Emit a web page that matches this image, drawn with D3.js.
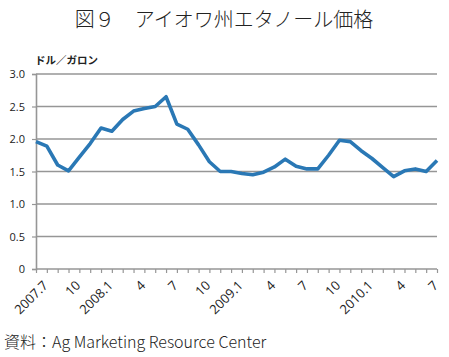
<!DOCTYPE html>
<html><head><meta charset="utf-8">
<script src="https://cdn.jsdelivr.net/npm/d3@7"></script>
<style>body{margin:0;background:#fff}svg{display:block}</style>
</head><body><svg id="c" width="449" height="357"></svg>
<script>
const months = ["2007.7","2007.8","2007.9","2007.10","2007.11","2007.12",
"2008.1","2008.2","2008.3","2008.4","2008.5","2008.6","2008.7","2008.8","2008.9","2008.10","2008.11","2008.12",
"2009.1","2009.2","2009.3","2009.4","2009.5","2009.6","2009.7","2009.8","2009.9","2009.10","2009.11","2009.12",
"2010.1","2010.2","2010.3","2010.4","2010.5","2010.6","2010.7","2010.8"];
const prices = [1.96,1.89,1.60,1.51,1.72,1.93,2.17,2.12,2.30,2.43,2.47,2.50,2.65,2.23,2.15,1.91,1.65,1.50,
1.50,1.47,1.45,1.49,1.57,1.69,1.58,1.54,1.54,1.75,1.98,1.96,1.82,1.70,1.56,1.42,1.51,1.54,1.50,1.67];
const tickLabels = {"2007.7":"2007.7","2007.10":"10","2008.1":"2008.1","2008.4":"4","2008.7":"7","2008.10":"10",
"2009.1":"2009.1","2009.4":"4","2009.7":"7","2009.10":"10","2010.1":"2010.1","2010.4":"4","2010.7":"7"};
const yTicks = [0,0.5,1.0,1.5,2.0,2.5,3.0];

const svg = d3.select("#c");
const L=36, R=437, T=74, B=269;
const x = d3.scalePoint().domain(months).range([L,R]);
const y = d3.scaleLinear().domain([0,3]).range([B,T]);

svg.append("text").attr("x",224).attr("y",27).attr("text-anchor","middle")
  .attr("font-family","'Noto Sans CJK JP'").attr("font-size",20).attr("font-weight",300).attr("fill","#222")
  .text("図９　アイオワ州エタノール価格");

svg.append("text").attr("x",35).attr("y",64)
  .attr("font-family","'Noto Sans CJK JP'").attr("font-size",10.5).attr("font-weight",700).attr("fill","#222")
  .text("ドル／ガロン");

// gridlines
svg.append("g").selectAll("line").data(yTicks.filter(d=>d>0)).join("line")
  .attr("x1",L).attr("x2",R).attr("y1",d=>y(d)).attr("y2",d=>y(d))
  .attr("stroke","#969696").attr("stroke-width",1.6);

// y axis
const ya = svg.append("g").attr("transform",`translate(${L},0)`)
  .call(d3.axisLeft(y).tickValues(yTicks).tickSize(4).tickPadding(7).tickFormat(d=>d===0?"0":d3.format(".1f")(d)));
ya.select(".domain").attr("stroke","#969696").attr("stroke-width",1.6);
ya.selectAll(".tick line").attr("stroke","#969696").attr("stroke-width",1.2);
ya.selectAll("text").attr("font-family","'Open Sans'").attr("font-size",11).attr("fill","#222");

// x axis
const xa = svg.append("g").attr("transform",`translate(0,${B})`)
  .call(d3.axisBottom(x).tickSize(4).tickFormat(d=>tickLabels[d]||""));
xa.select(".domain").attr("stroke","#969696").attr("stroke-width",1.6).attr("d",`M${L},0H${R}`);
xa.selectAll(".tick line").attr("stroke","#969696").attr("stroke-width",1.2);
xa.selectAll("text").attr("font-family","'Open Sans'").attr("font-size",13).attr("fill","#222")
  .attr("text-anchor","end").attr("dy","0.35em")
  .attr("transform","translate(9,14) rotate(-45)").attr("y",0).attr("x",0);

// line
svg.append("path").datum(prices.map((v,i)=>[months[i],v]))
  .attr("fill","none").attr("stroke","#2a78b5").attr("stroke-width",3.6).attr("stroke-linejoin","round")
  .attr("d",d3.line().x(d=>x(d[0])).y(d=>y(d[1])));

svg.append("text").attr("x",4).attr("y",348)
  .attr("font-family","'Noto Sans CJK JP'").attr("font-size",16).attr("font-weight",300).attr("fill","#222")
  .text("資料：Ag Marketing Resource Center");
</script></body></html>
